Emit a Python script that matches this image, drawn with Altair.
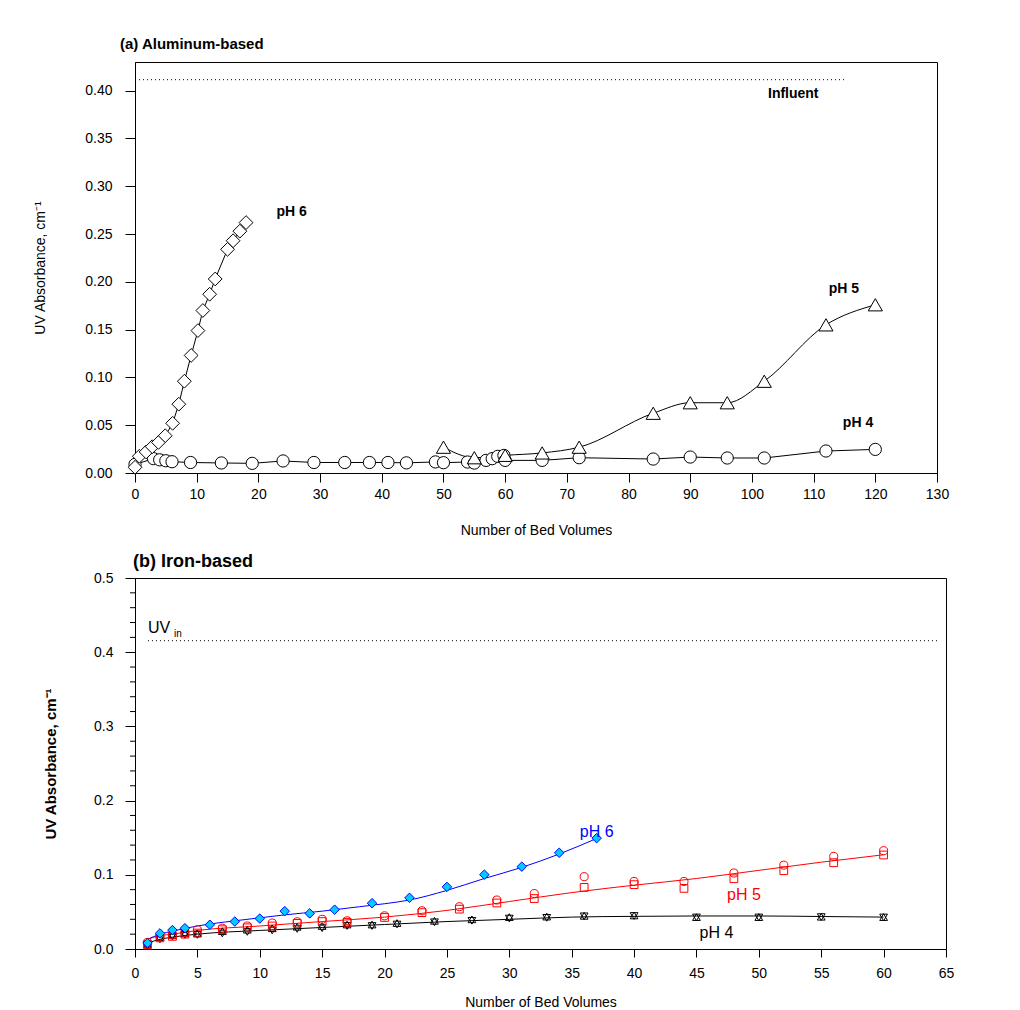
import altair as alt
import pandas as pd

FONT = "Liberation Sans"

# ---------------- panel (a) Aluminum-based ----------------
a_ph6_x = [0, 0.7, 1.8, 2.8, 3.8, 4.9, 6.1, 7.1, 8.0, 9.1, 10.2, 11.0, 12.1, 13.0, 15.0, 15.9, 17.0, 18.0]
a_ph6_y = [0.006, 0.0175, 0.022, 0.0275, 0.032, 0.039, 0.052, 0.072, 0.096, 0.123, 0.149, 0.170,
           0.187, 0.203, 0.234, 0.243, 0.253, 0.262]

a_ph5_x = [50, 55, 60, 66, 72, 84, 90, 96, 102, 112, 120]
a_ph5_y = [0.027, 0.016, 0.0185, 0.021, 0.027, 0.0625, 0.0735, 0.0735, 0.096, 0.155, 0.176]

a_ph4_x = [0, 3, 4, 5, 6, 9, 14, 19, 24, 29, 34, 38, 41, 44, 48.7, 50, 53.9, 55, 56.9, 57.9, 58.8,
           59.8, 60, 66, 72, 84, 90, 96, 102, 112, 120]
a_ph4_y = [0.009, 0.015, 0.0138, 0.0128, 0.0118, 0.011, 0.0105, 0.0101, 0.0126, 0.011, 0.011, 0.011,
           0.011, 0.0106, 0.0116, 0.0108, 0.0115, 0.0104, 0.0132, 0.015, 0.0174, 0.0184, 0.0132,
           0.0132, 0.016, 0.0146, 0.0167, 0.0157, 0.0157, 0.023, 0.0247]

a_influent_x = [0.65, 115.0]
a_influent_y = 0.4115

a_lab_text = ["pH 6", "pH 5", "pH 4", "Influent"]
a_lab_x = [25.4, 114.9, 117.2, 106.7]
a_lab_y = [0.273, 0.193, 0.052, 0.397]

a_xticks = list(range(0, 131, 10))
a_yticks = [0.0, 0.05, 0.10, 0.15, 0.20, 0.25, 0.30, 0.35, 0.40]

# ---------------- panel (b) Iron-based ----------------
b_ph6_x = [1, 2, 3, 4, 6, 8, 10, 12, 14, 16, 19, 22, 25, 28, 31, 34, 37]
b_ph6_y = [0.008, 0.021, 0.0255, 0.028, 0.0327, 0.037, 0.041, 0.051, 0.048, 0.053, 0.0617, 0.069,
           0.0837, 0.1002, 0.111, 0.1297, 0.1494]
b_ph6_fit_x = [1, 2, 3, 5, 8, 10, 12, 15, 18, 20, 22, 25, 28, 31, 34, 37]
b_ph6_fit_y = [0.013, 0.020, 0.024, 0.031, 0.038, 0.042, 0.046, 0.051, 0.057, 0.061, 0.066, 0.079,
               0.095, 0.110, 0.128, 0.149]

b_ph5_x = [1, 2, 3, 4, 5, 7, 9, 11, 13, 15, 17, 20, 23, 26, 29, 32, 36, 40, 44, 48, 52, 56, 60]
b_ph5_circle_y = [0.009, 0.017, 0.019, 0.022, 0.026, 0.028, 0.031, 0.035, 0.0367, 0.040, 0.038,
                  0.0447, 0.0515, 0.057, 0.066, 0.0747, 0.0975, 0.091, 0.091, 0.1024, 0.113,
                  0.1248, 0.1325]
b_ph5_square_y = [0.006, 0.015, 0.017, 0.020, 0.0215, 0.026, 0.0286, 0.031, 0.0345, 0.037, 0.036,
                  0.0425, 0.049, 0.0537, 0.062, 0.068, 0.083, 0.0867, 0.0817, 0.0947, 0.1055,
                  0.1163, 0.1267]
b_ph5_fit_x = [1, 2, 3, 5, 10, 15, 20, 25, 30, 35, 40, 45, 50, 55, 60]
b_ph5_fit_y = [0.013, 0.018, 0.020, 0.025, 0.031, 0.037, 0.043, 0.052, 0.064, 0.076, 0.086, 0.095,
               0.106, 0.117, 0.127]

b_ph4_x = [1, 2, 3, 4, 5, 7, 9, 11, 13, 15, 17, 19, 21, 24, 27, 30, 33, 36, 40, 45, 50, 55, 60]
b_ph4_up_y = [0.006, 0.016, 0.019, 0.021, 0.021, 0.024, 0.026, 0.028, 0.030, 0.031, 0.033, 0.033,
              0.035, 0.038, 0.040, 0.043, 0.0437, 0.0447, 0.0452, 0.043, 0.043, 0.0435, 0.043]
b_ph4_down_y = [0.004, 0.013, 0.017, 0.019, 0.019, 0.021, 0.023, 0.025, 0.027, 0.028, 0.031, 0.031,
                0.033, 0.036, 0.038, 0.041, 0.042, 0.044, 0.0445, 0.0425, 0.0425, 0.043, 0.0425]
b_ph4_fit_x = [1, 2, 3, 5, 10, 15, 20, 25, 30, 35, 40, 45, 50, 55, 60]
b_ph4_fit_y = [0.008, 0.013, 0.016, 0.020, 0.025, 0.029, 0.033, 0.037, 0.040, 0.043, 0.044, 0.0445,
               0.0445, 0.0438, 0.043]

b_uvin_x = [1.04, 64.3]
b_uvin_y = 0.4155

b_lab_text = ["pH 6", "pH 5", "pH 4"]
b_lab_x = [37.0, 48.8, 46.6]
b_lab_y = [0.158, 0.073, 0.022]
b_lab_color = ["#0000ff", "#ff0000", "#000000"]

b_xticks = list(range(0, 66, 5))
b_yticks = [0.0, 0.1, 0.2, 0.3, 0.4, 0.5]
b_minor = [0.02, 0.04, 0.06, 0.08, 0.12, 0.14, 0.16, 0.18, 0.22, 0.24, 0.26, 0.28,
           0.32, 0.34, 0.36, 0.38, 0.42, 0.44, 0.46, 0.48]


def frame(x, y):
    return pd.DataFrame({"x": x, "y": y, "i": list(range(len(x)))})


# ---------------- sizes ----------------
WA, HA = 802, 411
WB, HB = 811, 371

# ---------------- panel (a) ----------------
ax_xa = alt.Axis(values=a_xticks, title="Number of Bed Volumes", grid=False, tickSize=9,
                 labelPadding=5, labelFontSize=14, titleFontSize=14, titleFontWeight="normal",
                 titleY=57, titleBaseline="middle", labelFlush=False, labelOverlap=False)
ax_ya = alt.Axis(values=a_yticks, format=".2f", title="UV Absorbance, cm⁻¹", grid=False,
                 tickSize=10, labelPadding=13, labelFontSize=14, titleFontSize=14,
                 titleFontWeight="normal", titleX=-95, titleY=HA / 2, titleBaseline="middle",
                 titleAlign="center", labelFlush=False, labelOverlap=False)
sx_a = alt.Scale(domain=[0, 130], nice=False, zero=False)
sy_a = alt.Scale(domain=[0, 0.43], nice=False, zero=False)


def enc_a():
    return dict(x=alt.X("x:Q", scale=sx_a, axis=ax_xa), y=alt.Y("y:Q", scale=sy_a, axis=ax_ya))


da4 = frame(a_ph4_x, a_ph4_y)
da5 = frame(a_ph5_x, a_ph5_y)
da6 = frame(a_ph6_x, a_ph6_y)

a_layers = [
    alt.Chart(da4).mark_line(color="black", strokeWidth=1).encode(order="i:Q", **enc_a()),
    alt.Chart(da5).mark_line(color="black", strokeWidth=1, interpolate="monotone").encode(order="i:Q", **enc_a()),
    alt.Chart(da6).mark_line(color="black", strokeWidth=1).encode(order="i:Q", **enc_a()),
    alt.Chart(da4).mark_point(shape="circle", filled=True, fill="white", stroke="black",
                              strokeWidth=1, size=150, opacity=1).encode(**enc_a()),
    alt.Chart(da5).mark_point(shape="triangle-up", filled=True, fill="white", stroke="black",
                              strokeWidth=1, size=200, opacity=1).encode(**enc_a()),
    alt.Chart(da6).mark_point(shape="diamond", filled=True, fill="white", stroke="black",
                              strokeWidth=1, size=190, opacity=1).encode(**enc_a()),
    alt.Chart(pd.DataFrame({"x": [a_influent_x[0]], "x2": [a_influent_x[1]], "y": [a_influent_y]}))
    .mark_rule(color="black", strokeWidth=1, strokeDash=[1, 3])
    .encode(x2="x2:Q", **enc_a()),
    alt.Chart(pd.DataFrame({"x": a_lab_x, "y": a_lab_y, "t": a_lab_text}))
    .mark_text(align="center", baseline="middle", font=FONT, fontSize=14, fontWeight="bold", color="black")
    .encode(text="t:N", **enc_a()),
]

chart_a = alt.layer(*a_layers).properties(
    width=WA, height=HA,
    title=alt.TitleParams("(a) Aluminum-based", anchor="start", frame="group", font=FONT,
                          fontSize=15, fontWeight="bold", color="black", dx=-15, offset=10),
)

# ---------------- panel (b) ----------------
ax_xb = alt.Axis(values=b_xticks, title="Number of Bed Volumes", grid=False, tickSize=8,
                 labelPadding=9, labelFontSize=14, titleFontSize=14, titleFontWeight="normal",
                 titleY=53, titleBaseline="middle", labelFlush=False, labelOverlap=False)
ax_yb = alt.Axis(values=b_yticks, format=".1f", title="UV Absorbance, cm⁻¹", grid=False,
                 tickSize=10, labelPadding=12, labelFontSize=14, titleFontSize=15,
                 titleFontWeight="bold", titleX=-85, titleY=HB / 2, titleBaseline="middle",
                 titleAlign="center", labelFlush=False, labelOverlap=False)
sx_b = alt.Scale(domain=[0, 65], nice=False, zero=False)
sy_b = alt.Scale(domain=[0, 0.5], nice=False, zero=False)


def enc_b():
    return dict(x=alt.X("x:Q", scale=sx_b, axis=ax_xb), y=alt.Y("y:Q", scale=sy_b, axis=ax_yb))


db6 = frame(b_ph6_x, b_ph6_y)
db6f = frame(b_ph6_fit_x, b_ph6_fit_y)
db5c = frame(b_ph5_x, b_ph5_circle_y)
db5s = frame(b_ph5_x, b_ph5_square_y)
db5f = frame(b_ph5_fit_x, b_ph5_fit_y)
db4u = frame(b_ph4_x, b_ph4_up_y)
db4d = frame(b_ph4_x, b_ph4_down_y)
db4f = frame(b_ph4_fit_x, b_ph4_fit_y)

RED, BLUE, CYAN = "#ff0000", "#0000ff", "#00ccff"

b_layers = [
    alt.Chart(pd.DataFrame({"y": b_minor})).mark_rule(color="black", strokeWidth=1)
    .encode(x=alt.value(-5), x2=alt.value(0), y=alt.Y("y:Q", scale=sy_b, axis=ax_yb)),
    alt.Chart(db4f).mark_line(color="black", strokeWidth=1, interpolate="monotone").encode(**enc_b()),
    alt.Chart(db5f).mark_line(color=RED, strokeWidth=1, interpolate="monotone").encode(**enc_b()),
    alt.Chart(db6f).mark_line(color=BLUE, strokeWidth=1, interpolate="monotone").encode(**enc_b()),
    alt.Chart(db4d).mark_point(shape="triangle-down", filled=False, color="black", strokeWidth=1,
                               size=60, opacity=1).encode(**enc_b()),
    alt.Chart(db4u).mark_point(shape="triangle-up", filled=False, color="black", strokeWidth=1,
                               size=60, opacity=1).encode(**enc_b()),
    alt.Chart(db5s).mark_point(shape="square", filled=False, color=RED, strokeWidth=1,
                               size=60, opacity=1).encode(**enc_b()),
    alt.Chart(db5c).mark_point(shape="circle", filled=False, color=RED, strokeWidth=1,
                               size=65, opacity=1).encode(**enc_b()),
    alt.Chart(db6).mark_point(shape="diamond", filled=True, fill=CYAN, stroke=BLUE, strokeWidth=1,
                              size=90, opacity=1).encode(**enc_b()),
    alt.Chart(pd.DataFrame({"x": [b_uvin_x[0]], "x2": [b_uvin_x[1]], "y": [b_uvin_y]}))
    .mark_rule(color="black", strokeWidth=1, strokeDash=[1, 3])
    .encode(x2="x2:Q", **enc_b()),
    alt.Chart(pd.DataFrame({"x": b_lab_x, "y": b_lab_y, "t": b_lab_text, "c": b_lab_color}))
    .mark_text(align="center", baseline="middle", font=FONT, fontSize=16)
    .encode(text="t:N", color=alt.Color("c:N", scale=None), **enc_b()),
    alt.Chart(pd.DataFrame({"x": [1.04], "y": [0.433], "t": ["UV"]}))
    .mark_text(align="left", baseline="middle", font=FONT, fontSize=16, color="black")
    .encode(text="t:N", **enc_b()),
    alt.Chart(pd.DataFrame({"x": [1.04], "y": [0.433], "t": ["in"]}))
    .mark_text(align="left", baseline="middle", font=FONT, fontSize=10, color="black", dx=26, dy=6)
    .encode(text="t:N", **enc_b()),
]

chart_b = alt.layer(*b_layers).properties(
    width=WB, height=HB,
    title=alt.TitleParams("(b) Iron-based", anchor="start", frame="group", font=FONT,
                          fontSize=18, fontWeight="bold", color="black", dx=-2, offset=0),
)

chart = (
    alt.vconcat(chart_a, chart_b, spacing=14)
    .properties(padding={"left": 24, "top": 28, "right": 5, "bottom": 0})
    .configure_view(stroke="black", strokeWidth=1)
    .configure_axis(domainColor="black", tickColor="black", labelColor="black",
                    titleColor="black", labelFont=FONT, titleFont=FONT, domainWidth=1, tickWidth=1)
)

chart.save("out.html", embed_options={"renderer": "svg", "actions": False})
